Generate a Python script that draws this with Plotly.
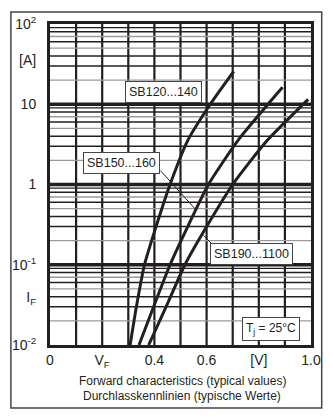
import math
import plotly.graph_objects as go

# Forward characteristics, typical values at Tj = 25 °C
# each series: forward current [A] and forward voltage [V]
i_sb120 = [0.01, 0.03, 0.1, 0.31, 1.0, 3.5, 10.0, 25.7]
v_sb120 = [0.307, 0.331, 0.362, 0.408, 0.46, 0.527, 0.614, 0.704]

i_sb150 = [0.01, 0.03, 0.1, 0.31, 1.0, 3.5, 10.0, 16.3]
v_sb150 = [0.341, 0.397, 0.46, 0.53, 0.607, 0.719, 0.835, 0.891]

i_sb190 = [0.01, 0.03, 0.1, 0.31, 1.0, 3.5, 10.0, 11.5]
v_sb190 = [0.378, 0.445, 0.517, 0.603, 0.70, 0.831, 0.97, 0.989]

series_names = ["SB120...140", "SB150...160", "SB190...1100"]

x_tickvals = [0, 0.2, 0.4, 0.6, 0.8, 1.0]
x_ticktext = ["0", "V<sub>F</sub>", "0.4", "0.6", "[V]", "1.0"]
y_tickvals = [0.01, 0.04, 0.1, 1, 10, 35, 100]
y_ticktext = ["10<sup>-2</sup>", "I<sub>F</sub>", "10<sup>-1</sup>", "1", "10", "[A]", "10<sup>2</sup>"]

INK = "#231f20"
GREY = "#9a9a9a"
FONT = "Liberation Sans"

fig = go.Figure()

# grid: vertical lines every 0.1 V
for k in range(1, 10):
    v = k / 10
    fig.add_trace(go.Scatter(x=[v, v], y=[0.01, 100], mode="lines",
                             line=dict(color=INK, width=2.2), hoverinfo="skip", showlegend=False))

# grid: logarithmic horizontal lines, two tones for the minor steps
minor_tone = {2: GREY, 3: INK, 4: INK, 5: GREY, 6: INK, 7: GREY, 8: INK, 9: INK}
for dec in [0.01, 0.1, 1, 10]:
    for m in range(2, 10):
        y = dec * m
        fig.add_trace(go.Scatter(x=[0, 1], y=[y, y], mode="lines",
                                 line=dict(color=minor_tone[m], width=1.4),
                                 hoverinfo="skip", showlegend=False))
for dec in [0.1, 1, 10]:
    fig.add_trace(go.Scatter(x=[0, 1], y=[dec, dec], mode="lines",
                             line=dict(color=INK, width=3.6), hoverinfo="skip", showlegend=False))

# characteristic curves
for name, vs, cur in [(series_names[0], v_sb120, i_sb120),
                      (series_names[1], v_sb150, i_sb150),
                      (series_names[2], v_sb190, i_sb190)]:
    fig.add_trace(go.Scatter(x=vs, y=cur, mode="lines", name=name,
                             line=dict(color=INK, width=3, shape="spline", smoothing=0.6),
                             showlegend=False))

# leader lines from the labels to the curves
fig.add_trace(go.Scatter(x=[0.423, 0.558], y=[1.49, 0.489], mode="lines",
                         line=dict(color=INK, width=1), hoverinfo="skip", showlegend=False))
fig.add_trace(go.Scatter(x=[0.625, 0.588], y=[0.175, 0.232], mode="lines",
                         line=dict(color=INK, width=1), hoverinfo="skip", showlegend=False))

def label(text, v, i, size=12.5):
    fig.add_annotation(x=v, y=math.log10(i), text=text, showarrow=False,
                       font=dict(family=FONT, size=size, color=INK),
                       bgcolor="white", bordercolor="#444", borderwidth=1, borderpad=3)

label(series_names[0], 0.436, 14.1)
label(series_names[1], 0.273, 1.85)
label(series_names[2], 0.773, 0.137)
label("T<sub>j</sub> = 25°C", 0.846, 0.016, size=12)

# captions below the diagram
fig.add_annotation(xref="paper", yref="paper", x=0.506, y=-0.112, yanchor="middle",
                   text="Forward characteristics (typical values)", showarrow=False,
                   font=dict(family=FONT, size=12, color=INK))
fig.add_annotation(xref="paper", yref="paper", x=0.506, y=-0.159, yanchor="middle",
                   text="Durchlasskennlinien (typische Werte)", showarrow=False,
                   font=dict(family=FONT, size=12, color=INK))

# outer frame
fig.add_shape(type="rect", xref="paper", yref="paper",
              x0=-0.1498, x1=1.041, y0=-0.196, y1=1.0374,
              line=dict(color="#444", width=1.5), fillcolor="rgba(0,0,0,0)", layer="below")

fig.update_xaxes(range=[0, 1], tickvals=x_tickvals, ticktext=x_ticktext,
                 showgrid=False, zeroline=False, showline=True, mirror=True,
                 linecolor=INK, linewidth=3, ticks="", ticklabelstandoff=0,
                 tickfont=dict(family=FONT, size=14, color=INK))
fig.update_yaxes(type="log", range=[-2, 2], tickvals=y_tickvals, ticktext=y_ticktext,
                 showgrid=False, zeroline=False, showline=True, mirror=True,
                 linecolor=INK, linewidth=3, ticks="", ticklabelstandoff=8,
                 tickfont=dict(family=FONT, size=14, color=INK))

fig.update_layout(width=333, height=418, margin=dict(l=46, r=20, t=24, b=73),
                  paper_bgcolor="white", plot_bgcolor="white", showlegend=False)

fig.write_html("out.html")
